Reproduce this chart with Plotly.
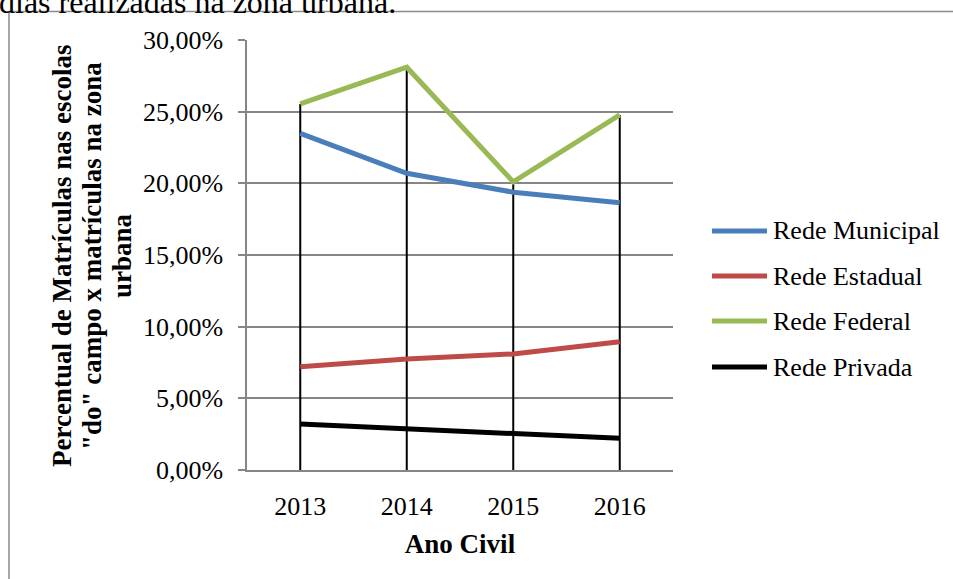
import plotly.graph_objects as go

# Data
years = ["2013", "2014", "2015", "2016"]
series_names = ["Rede Municipal", "Rede Estadual", "Rede Federal", "Rede Privada"]
municipal = [0.2349, 0.2070, 0.1938, 0.1865]
estadual = [0.0721, 0.0775, 0.0810, 0.0895]
federal = [0.2554, 0.2810, 0.2010, 0.2477]
privada = [0.0321, 0.0286, 0.0256, 0.0221]
series_values = [municipal, estadual, federal, privada]
series_colors = ["#4a7ebb", "#be4b48", "#98b954", "#000000"]

W, H = 953, 579
ML, MR, MT, MB = 247, 280, 40, 109
PW, PH = W - ML - MR, H - MT - MB
SERIF = "Liberation Serif, Times New Roman, serif"


def px(x):
    return (x - ML) / PW


def py(y):
    return (H - MB - y) / PH


fig = go.Figure()

# Drop lines from the axis to the highest value of each year
for i, yr in enumerate(years):
    top = max(v[i] for v in series_values)
    fig.add_trace(go.Scatter(x=[yr, yr], y=[0, top], mode="lines",
                             line=dict(color="black", width=2),
                             showlegend=False, hoverinfo="skip"))

for name, vals, col in zip(series_names, series_values, series_colors):
    fig.add_trace(go.Scatter(x=years, y=vals, mode="lines", name=name,
                             line=dict(color=col, width=5),
                             showlegend=False))

shapes = []
annotations = []

# Legend drawn beside the plot
legend_rows = [231, 276, 321, 367]
for name, col, ry in zip(series_names, series_colors, legend_rows):
    shapes.append(dict(type="line", xref="paper", yref="paper",
                       x0=px(712), x1=px(767), y0=py(ry), y1=py(ry),
                       line=dict(color=col, width=5)))
    annotations.append(dict(text=name, xref="paper", yref="paper",
                            x=px(771), y=py(ry), xanchor="left", yanchor="middle",
                            showarrow=False,
                            font=dict(family=SERIF, size=26, color="black")))

# Y-axis title lines
ytitle = ["Percentual de Matrículas nas escolas",
          "\"do\" campo x matrículas na zona",
          "urbana"]
for line, cx in zip(ytitle, [62, 92, 122]):
    annotations.append(dict(text="<b>" + line + "</b>", xref="paper", yref="paper",
                            x=px(cx), y=py(256), xanchor="center", yanchor="middle",
                            textangle=-90, showarrow=False,
                            font=dict(family=SERIF, size=27, color="black")))

# Text of the surrounding page
annotations.append(dict(text="dias realizadas na zona urbana.", xref="paper", yref="paper",
                        x=px(-3), y=py(-18), xanchor="left", yanchor="top",
                        showarrow=False,
                        font=dict(family=SERIF, size=32, color="black")))

# Chart frame
shapes.append(dict(type="line", xref="paper", yref="paper",
                   x0=px(9), x1=px(960), y0=py(11.5), y1=py(11.5),
                   line=dict(color="#8c8c8c", width=1.5)))
shapes.append(dict(type="line", xref="paper", yref="paper",
                   x0=px(9), x1=px(9), y0=py(11.5), y1=py(600),
                   line=dict(color="#8c8c8c", width=1.5)))

fig.update_layout(
    width=W, height=H,
    margin=dict(l=ML, r=MR, t=MT, b=MB),
    paper_bgcolor="white", plot_bgcolor="white",
    separators=",.",
    showlegend=False,
    shapes=shapes,
    annotations=annotations,
    font=dict(family=SERIF, color="black"),
)

fig.update_xaxes(
    type="category", range=[-0.5, 3.5],
    showgrid=False, showline=True, linecolor="#868686", linewidth=1.5,
    ticks="", ticklabelstandoff=12,
    tickfont=dict(family=SERIF, size=26, color="black"),
    title=dict(text="<b>Ano Civil</b>", standoff=14,
               font=dict(family=SERIF, size=27, color="black")),
    zeroline=False,
)
fig.update_yaxes(
    range=[0, 0.30], dtick=0.05, tickformat=".2%",
    showgrid=True, gridcolor="#868686", gridwidth=1.5,
    showline=True, linecolor="#868686", linewidth=1.5,
    ticks="outside", ticklen=7, tickcolor="#868686", tickwidth=1.5,
    ticklabelstandoff=10,
    tickfont=dict(family=SERIF, size=26, color="black"),
    zeroline=False,
)

fig.write_html("out.html")
